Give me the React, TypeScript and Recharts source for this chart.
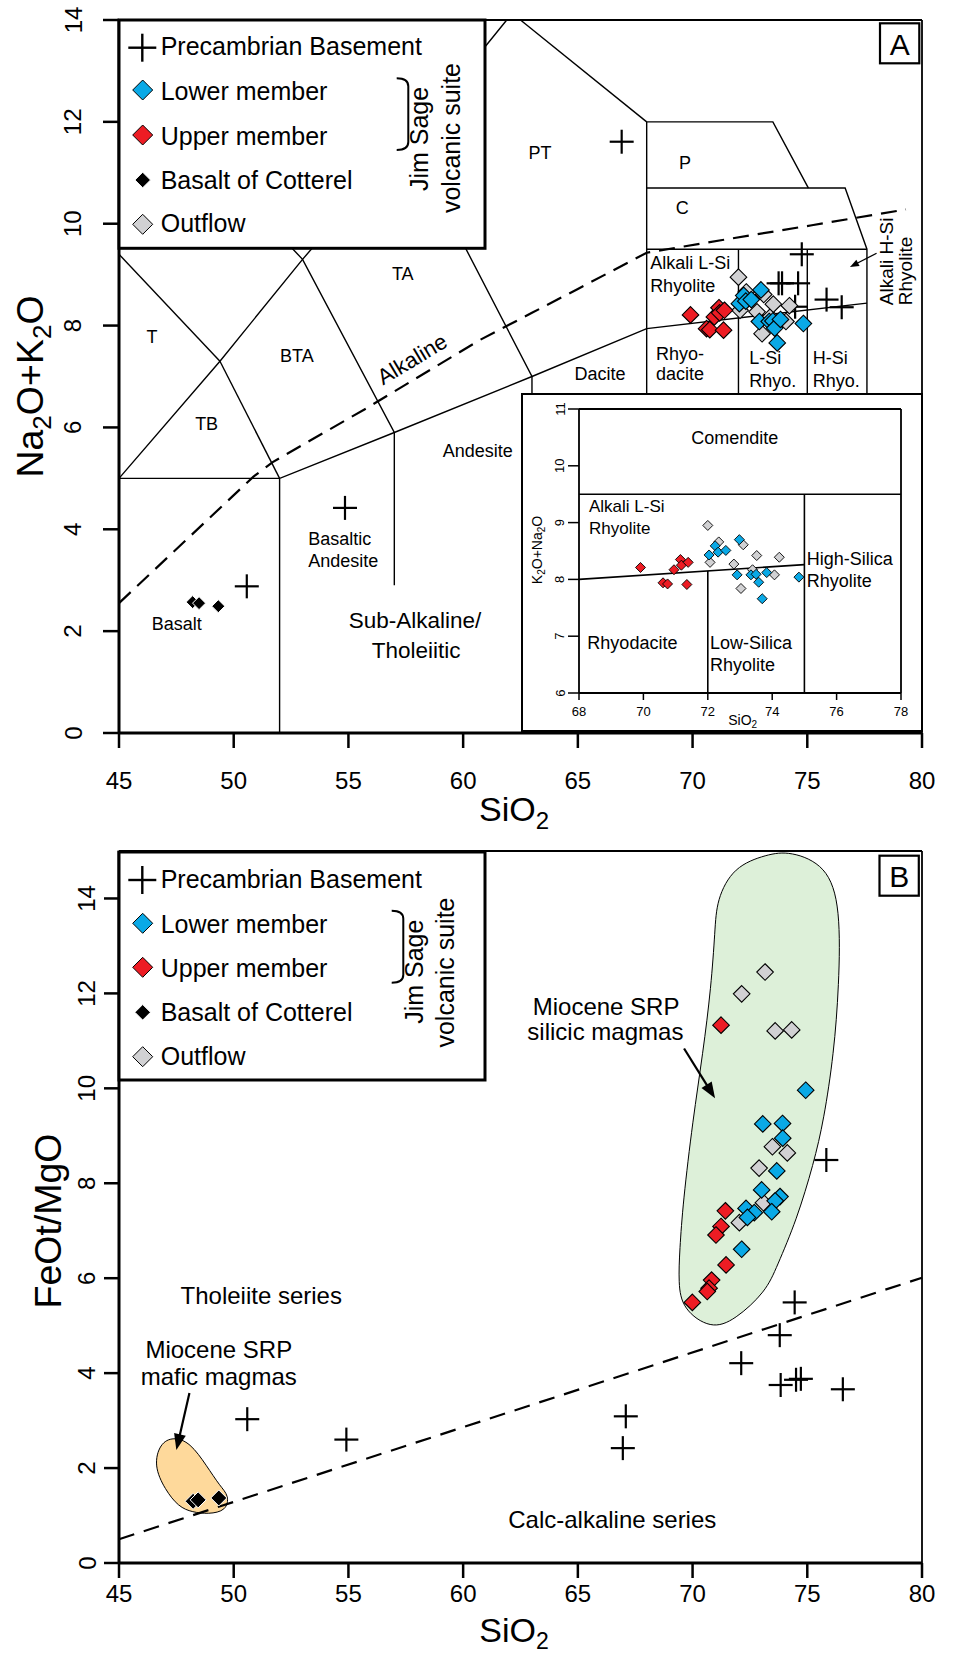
import React from 'react';
import { ScatterChart, Scatter, XAxis, YAxis, ReferenceLine, Curve } from 'recharts';

type Pt = { x: number; y: number };
type Lbl = { x: number; y: number; text: string };

const FONT = '"Liberation Sans", Arial, Helvetica, sans-serif';
const BLUE = '#0aa9e6';
const RED = '#ed1c24';
const GRAY = '#d1d1d3';
const GREEN = '#ddf0d9';
const ORANGE = '#fed99b';

const toPts = (a: number[][]): Pt[] => a.map(([x, y]) => ({ x, y }));

// ---------------- Panel A : TAS ----------------
const tasXTicks = [45, 50, 55, 60, 65, 70, 75, 80];
const tasYTicks = [0, 2, 4, 6, 8, 10, 12, 14];

const precambrianA = [[50.57, 2.88], [54.85, 4.42], [66.91, 11.61], [74.76, 9.4], [73.75, 8.83], [73.9, 8.83], [74.6, 8.83], [75.84, 8.51], [76.5, 8.36], [74.47, 8.37]];
const lowerA = [[72.04, 8.43], [72.23, 8.59], [72.32, 8.48], [72.56, 8.51], [72.98, 8.7], [72.91, 8.08], [73.34, 8.08], [73.5, 8.09], [73.58, 7.95], [73.69, 7.66], [73.83, 8.12], [74.83, 8.04]];
const upperA = [[69.91, 8.21], [70.61, 7.94], [70.75, 7.92], [70.95, 8.17], [71.15, 8.35], [71.18, 8.25], [71.39, 8.3], [71.35, 7.91]];
const outflowA = [[72.0, 8.95], [72.07, 8.3], [72.34, 8.66], [72.81, 8.27], [73.1, 8.61], [73.03, 7.84], [73.39, 8.17], [73.52, 8.42], [74.07, 8.08], [74.22, 8.39]];
const basaltA = [[48.21, 2.57], [48.49, 2.55], [49.33, 2.49]];

const tasFieldLines: number[][][] = [
  [[45, 9.4], [49.4, 7.3]],
  [[45, 5], [49.4, 7.3], [53, 9.3], [57.6, 11.7], [61, 13.5], [61.9, 14]],
  [[49.4, 7.3], [52, 5]],
  [[45, 5], [52, 5]],
  [[52, 0], [52, 5], [57, 5.9], [63, 7], [68, 7.94], [77.6, 8.44]],
  [[48.4, 11.5], [53, 9.3], [57, 5.9], [57, 2.9]],
  [[57.6, 11.7], [63, 7], [63, 0]],
  [[62.5, 14], [68, 12]],
  [[68, 6], [68, 12], [73.5, 12], [75.05, 10.7]],
  [[68, 10.7], [76.65, 10.7], [77.6, 9.5], [77.6, 6]],
  [[68, 9.5], [77.6, 9.5]],
  [[72, 9.5], [72, 6]],
  [[75, 9.5], [75, 6]],
];
const alkalineDivideA = [[45, 2.55], [50.85, 5.03], [51.7, 5.32], [55.8, 6.38], [60.7, 7.71], [63, 8.25], [65, 8.72], [68, 9.43], [71.3, 9.68], [75.2, 9.97], [79.3, 10.28]];
const hsiArrow = [[78.02, 9.42], [76.86, 9.15]];

const tasNamesCentered: Lbl[] = [
  { x: 46.44, y: 7.66, text: 'T' },
  { x: 48.82, y: 5.95, text: 'TB' },
  { x: 52.75, y: 7.29, text: 'BTA' },
  { x: 57.37, y: 8.89, text: 'TA' },
  { x: 63.35, y: 11.28, text: 'PT' },
  { x: 69.67, y: 11.07, text: 'P' },
  { x: 69.55, y: 10.19, text: 'C' },
  { x: 65.97, y: 6.93, text: 'Dacite' },
];
const tasNamesLeft: Lbl[] = [
  { x: 68.15, y: 9.12, text: 'Alkali L-Si' },
  { x: 68.15, y: 8.66, text: 'Rhyolite' },
  { x: 68.41, y: 7.33, text: 'Rhyo-' },
  { x: 68.41, y: 6.93, text: 'dacite' },
  { x: 72.47, y: 7.24, text: 'L-Si' },
  { x: 72.47, y: 6.8, text: 'Rhyo.' },
  { x: 75.24, y: 7.24, text: 'H-Si' },
  { x: 75.24, y: 6.8, text: 'Rhyo.' },
  { x: 59.11, y: 5.42, text: 'Andesite' },
  { x: 53.25, y: 3.7, text: 'Basaltic' },
  { x: 53.25, y: 3.26, text: 'Andesite' },
  { x: 46.43, y: 2.02, text: 'Basalt' },
];
const tasSeriesNames: Lbl[] = [
  { x: 57.9, y: 2.06, text: 'Sub-Alkaline/' },
  { x: 57.95, y: 1.47, text: 'Tholeiitic' },
];
const tasAlkalineTag: Lbl[] = [{ x: 57.78, y: 7.34, text: 'Alkaline' }];
const tasAlkaliHSi: Lbl[] = [
  { x: 78.74, y: 8.4, text: 'Alkali H-Si' },
  { x: 79.56, y: 8.4, text: 'Rhyolite' },
];

// ---------------- Inset ----------------
const insetXTicks = [68, 70, 72, 74, 76, 78];
const insetYTicks = [6, 7, 8, 9, 10, 11];
const insetFieldLines: number[][][] = [
  [[68, 9.5], [78, 9.5]],
  [[75, 9.5], [75, 6]],
  [[68, 8.0], [75, 8.26]],
  [[72, 8.15], [72, 6]],
];
const insetNamesCentered: Lbl[] = [{ x: 72.84, y: 10.39, text: 'Comendite' }];
const insetNamesLeft: Lbl[] = [
  { x: 75.07, y: 8.26, text: 'High-Silica' },
  { x: 75.07, y: 7.87, text: 'Rhyolite' },
  { x: 68.26, y: 6.77, text: 'Rhyodacite' },
  { x: 72.07, y: 6.77, text: 'Low-Silica' },
  { x: 72.07, y: 6.39, text: 'Rhyolite' },
];
const insetNamesSmall: Lbl[] = [
  { x: 68.31, y: 9.18, text: 'Alkali L-Si' },
  { x: 68.31, y: 8.8, text: 'Rhyolite' },
];

// ---------------- Panel B : FeOt/MgO ----------------
const feoXTicks = [45, 50, 55, 60, 65, 70, 75, 80];
const feoYTicks = [0, 2, 4, 6, 8, 10, 12, 14];

const precambrianB = [[50.59, 3.03], [54.91, 2.6], [67.09, 3.09], [66.96, 2.42], [72.12, 4.21], [73.8, 4.8], [73.84, 3.75], [74.45, 5.49], [74.51, 3.86], [74.72, 3.88], [75.83, 8.49], [76.55, 3.66]];
const lowerB = [[74.93, 9.96], [73.06, 9.25], [73.92, 9.26], [73.93, 8.95], [73.67, 8.26], [73.01, 7.86], [73.81, 7.72], [73.6, 7.63], [73.45, 7.4], [72.33, 7.47], [72.69, 7.38], [72.39, 7.28], [72.14, 6.61]];
const upperB = [[71.24, 11.33], [71.43, 7.42], [71.24, 7.09], [71.02, 6.91], [71.46, 6.28], [70.83, 5.96], [70.72, 5.79], [70.64, 5.72], [69.99, 5.49]];
const outflowB = [[73.16, 12.45], [72.14, 11.99], [73.6, 11.21], [74.32, 11.23], [73.48, 8.77], [74.13, 8.64], [72.9, 8.32], [73.09, 7.59], [72.04, 7.17]];
const basaltB = [[48.23, 1.3], [48.45, 1.33], [49.35, 1.37]];

const miyashiroLine = [[45, 0.5], [80, 6.01]];
const silicicField = [[71.05, 13.97], [71.78, 14.67], [73.24, 14.93], [74.25, 15.0], [75.85, 14.7], [76.45, 13.82], [76.38, 12.14], [76.16, 10.74], [75.72, 9.33], [75.28, 8.42], [74.54, 7.23], [73.67, 6.24], [73.2, 5.72], [71.85, 5.12], [70.8, 4.92], [69.55, 5.35], [69.38, 5.9], [69.44, 6.6], [69.58, 7.58], [70.01, 9.33], [70.45, 10.74], [70.81, 12.14], [70.98, 13.34]];
const maficField = [[47.37, 2.66], [48.1, 2.54], [48.82, 2.05], [49.4, 1.62], [49.8, 1.42], [49.68, 1.1], [48.9, 1.03], [48.2, 1.07], [47.6, 1.18], [47.0, 1.55], [46.52, 2.05], [46.78, 2.52]];
const silicicArrow = [[69.63, 10.84], [70.98, 9.79]];
const maficArrow = [[48.07, 3.58], [47.5, 2.38]];

const feoNames: Lbl[] = [
  { x: 51.2, y: 5.46, text: 'Tholeiite series' },
  { x: 66.5, y: 0.74, text: 'Calc-alkaline series' },
  { x: 66.23, y: 11.54, text: 'Miocene SRP' },
  { x: 66.2, y: 11.02, text: 'silicic magmas' },
  { x: 49.35, y: 4.32, text: 'Miocene SRP' },
  { x: 49.35, y: 3.75, text: 'mafic magmas' },
];

const legendNames = ['Precambrian Basement', 'Lower member', 'Upper member', 'Basalt of Cotterel', 'Outflow'];

// ---------------- shapes ----------------
const Nothing = () => <g />;

function diamondShape(r: number, fill: string, stroke = '#000', sw = 1) {
  return (p: any) => {
    const { cx, cy } = p;
    if (cx == null || cy == null || Number.isNaN(cx)) return <g />;
    return <polygon points={`${cx},${cy - r} ${cx + r},${cy} ${cx},${cy + r} ${cx - r},${cy}`} fill={fill} stroke={stroke} strokeWidth={sw} />;
  };
}
function crossShape(h: number, sw: number) {
  return (p: any) => {
    const { cx, cy } = p;
    if (cx == null || cy == null || Number.isNaN(cx)) return <g />;
    return (
      <g stroke="#000" strokeWidth={sw}>
        <line x1={cx - h} y1={cy} x2={cx + h} y2={cy} />
        <line x1={cx} y1={cy - h} x2={cx} y2={cy + h} />
      </g>
    );
  };
}
function textShape(size: number, anchor: string, rotate = 0, central = false) {
  return (p: any) => {
    const d = p.payload ?? p;
    const { cx, cy } = p;
    if (cx == null || cy == null || Number.isNaN(cx)) return <g />;
    return (
      <text x={cx} y={cy} fontSize={size} fontFamily={FONT} fill="#000" textAnchor={anchor as any}
        dominantBaseline={central ? 'central' : undefined}
        transform={rotate ? `rotate(${rotate} ${cx} ${cy})` : undefined}>{d.text}</text>
    );
  };
}
function ArrowLine(props: any) {
  const { points, head = 14, half = 5, sw = 2 } = props;
  if (!points || points.length < 2) return null;
  const a = points[0];
  const b = points[points.length - 1];
  const dx = b.x - a.x, dy = b.y - a.y;
  const L = Math.hypot(dx, dy) || 1;
  const ux = dx / L, uy = dy / L;
  const bx = b.x - ux * head, by = b.y - uy * head;
  const nx = -uy * half, ny = ux * half;
  return (
    <g>
      <line x1={a.x} y1={a.y} x2={bx + ux * 2} y2={by + uy * 2} stroke="#000" strokeWidth={sw} />
      <polygon points={`${b.x},${b.y} ${bx + nx},${by + ny} ${bx - nx},${by - ny}`} fill="#000" />
    </g>
  );
}
function BlobPath(props: any) {
  const { points, areaFill } = props;
  if (!points || !points.length) return null;
  return <Curve type="basisClosed" points={points} fill={areaFill} stroke="#000" strokeWidth={1} />;
}

function xTick(size: number) {
  return (p: any) => (
    <text x={p.x} y={p.y} textAnchor="middle" dominantBaseline="central" fontSize={size} fontFamily={FONT} fill="#000">{p.payload.value}</text>
  );
}
function yTick(size: number) {
  return (p: any) => (
    <text x={p.x} y={p.y} textAnchor="middle" dominantBaseline="central" fontSize={size} fontFamily={FONT} fill="#000"
      transform={`rotate(-90 ${p.x} ${p.y})`}>{p.payload.value}</text>
  );
}

const AXIS = { stroke: '#000', strokeWidth: 3 };
const TICK = { stroke: '#000', strokeWidth: 2.5 };
const FIELD_LINE = { stroke: '#000', strokeWidth: 1.4 };

// ---------------- legend box (overlay) ----------------
function KeyBox({ c }: any) {
  const L = 119;
  const t = c.top;
  const colors = [BLUE, RED, '#000', GRAY];
  const radii = [10, 10, 7.8, 10];
  const dx = L + 23.7;
  return (
    <g fontFamily={FONT}>
      <rect x={L} y={t} width={366} height={c.h} fill="#fff" stroke="#000" strokeWidth={3} />
      <g stroke="#000" strokeWidth={2.4}>
        <line x1={L + 23.3 - 14} y1={t + c.crossY} x2={L + 23.3 + 14} y2={t + c.crossY} />
        <line x1={L + 23.3} y1={t + c.crossY - 14} x2={L + 23.3} y2={t + c.crossY + 14} />
      </g>
      {c.diaY.map((dy: number, i: number) => {
        const cy = t + dy, r = radii[i];
        return <polygon key={i} points={`${dx},${cy - r} ${dx + r},${cy} ${dx},${cy + r} ${dx - r},${cy}`} fill={colors[i]} stroke={i === 2 ? '#fff' : '#000'} strokeWidth={1} />;
      })}
      {legendNames.map((n, i) => (
        <text key={n} x={L + 41.7} y={t + c.textY[i]} fontSize={25} fill="#000">{n}</text>
      ))}
      <path d={`M${L + c.br.x0} ${t + c.br.y0} Q${L + c.br.x1} ${t + c.br.y0} ${L + c.br.x1} ${t + c.br.y0 + 8} L${L + c.br.x1} ${t + c.br.y1 - 8} Q${L + c.br.x1} ${t + c.br.y1} ${L + c.br.x0} ${t + c.br.y1}`} fill="none" stroke="#000" strokeWidth={2} />
      <text x={L + c.jim.x} y={t + c.jim.y} fontSize={25} textAnchor="middle" transform={`rotate(-90 ${L + c.jim.x} ${t + c.jim.y})`}>Jim Sage</text>
      <text x={L + c.vol.x} y={t + c.vol.y} fontSize={25} textAnchor="middle" transform={`rotate(-90 ${L + c.vol.x} ${t + c.vol.y})`}>volcanic suite</text>
    </g>
  );
}

const keyA = { top: 20, h: 228.3, crossY: 27.7, textY: [35, 80, 125, 169, 212.3], diaY: [70, 115, 160, 204.3], br: { x0: 277.7, x1: 289.3, y0: 58.3, y1: 130 }, jim: { x: 309.3, y: 119 }, vol: { x: 341, y: 118 } };
const keyB = { top: 852, h: 228, crossY: 28, textY: [36.3, 80.7, 124.7, 169, 213], diaY: [71.3, 115.3, 160.3, 204.7], br: { x0: 272.7, x1: 284.3, y0: 58.7, y1: 130.7 }, jim: { x: 304.3, y: 119.7 }, vol: { x: 335, y: 120.5 } };

function PanelTag({ x, y, letter, base }: any) {
  return (
    <g>
      <rect x={x} y={y} width={39.3} height={40} fill="#fff" stroke="#000" strokeWidth={2.2} />
      <text x={x + 19.7} y={base} fontSize={30} textAnchor="middle" fontFamily={FONT}>{letter}</text>
    </g>
  );
}

export default function App() {
  const noAnim = false;
  return (
    <div style={{ position: 'absolute', left: 0, top: 0, width: 953, height: 1657, background: '#fff', overflow: 'hidden' }}>
      {/* Panel A */}
      <div style={{ position: 'absolute', left: 0, top: 0 }}>
        <ScatterChart width={953} height={820} margin={{ top: 20, right: 31, bottom: 40, left: 59 }}>
          <XAxis type="number" dataKey="x" domain={[45, 80]} ticks={tasXTicks} interval={0} height={47} tickSize={15} tickMargin={32} tick={xTick(24)} axisLine={AXIS} tickLine={TICK} />
          <YAxis type="number" dataKey="y" domain={[0, 14]} ticks={tasYTicks} interval={0} width={60} tickSize={16} tickMargin={30} tick={yTick(24)} axisLine={AXIS} tickLine={TICK} />
          <ReferenceLine y={14} stroke="#000" strokeWidth={1.8} />
          <ReferenceLine x={80} stroke="#000" strokeWidth={1.8} />
          {tasFieldLines.map((s, i) => (
            <Scatter key={`tf${i}`} data={toPts(s)} line={FIELD_LINE} shape={Nothing} isAnimationActive={noAnim} />
          ))}
          <Scatter data={toPts(alkalineDivideA)} line={{ stroke: '#000', strokeWidth: 2.2, strokeDasharray: '16 9' }} shape={Nothing} isAnimationActive={noAnim} />
          <Scatter data={tasNamesCentered} shape={textShape(18, 'middle')} isAnimationActive={noAnim} />
          <Scatter data={tasNamesLeft} shape={textShape(18, 'start')} isAnimationActive={noAnim} />
          <Scatter data={tasSeriesNames} shape={textShape(22.5, 'middle')} isAnimationActive={noAnim} />
          <Scatter data={tasAlkalineTag} shape={textShape(22, 'middle', -31, true)} isAnimationActive={noAnim} />
          <Scatter data={tasAlkaliHSi} shape={textShape(19, 'start', -90)} isAnimationActive={noAnim} />
          <Scatter data={toPts(hsiArrow)} line={<ArrowLine head={9} half={3.5} sw={1.3} />} shape={Nothing} isAnimationActive={noAnim} />
          <Scatter data={toPts(precambrianA)} shape={crossShape(12, 2.2)} isAnimationActive={noAnim} />
          <Scatter data={toPts(basaltA)} shape={diamondShape(6.5, '#000', '#fff', 1)} isAnimationActive={noAnim} />
          <Scatter data={toPts(outflowA)} shape={diamondShape(8.3, GRAY, '#000', 1.1)} isAnimationActive={noAnim} />
          <Scatter data={toPts(lowerA)} shape={diamondShape(8.3, BLUE, '#000', 1.1)} isAnimationActive={noAnim} />
          <Scatter data={toPts(upperA)} shape={diamondShape(8.3, RED, '#000', 1.1)} isAnimationActive={noAnim} />
        </ScatterChart>
      </div>

      {/* Panel B */}
      <div style={{ position: 'absolute', left: 0, top: 820 }}>
        <ScatterChart width={953} height={837} margin={{ top: 31, right: 31, bottom: 47, left: 59 }}>
          <XAxis type="number" dataKey="x" domain={[45, 80]} ticks={feoXTicks} interval={0} height={47} tickSize={15} tickMargin={15} tick={xTick(24)} axisLine={AXIS} tickLine={TICK} />
          <YAxis type="number" dataKey="y" domain={[0, 15]} ticks={feoYTicks} interval={0} width={60} tickSize={15} tickMargin={17} tick={yTick(24)} axisLine={AXIS} tickLine={TICK} />
          <ReferenceLine y={15} stroke="#000" strokeWidth={1.8} />
          <ReferenceLine x={80} stroke="#000" strokeWidth={1.8} />
          <Scatter data={toPts(silicicField)} line={<BlobPath areaFill={GREEN} />} shape={Nothing} isAnimationActive={noAnim} />
          <Scatter data={toPts(maficField)} line={<BlobPath areaFill={ORANGE} />} shape={Nothing} isAnimationActive={noAnim} />
          <Scatter data={toPts(miyashiroLine)} line={{ stroke: '#000', strokeWidth: 2.2, strokeDasharray: '16 10' }} shape={Nothing} isAnimationActive={noAnim} />
          <Scatter data={feoNames} shape={textShape(24, 'middle')} isAnimationActive={noAnim} />
          <Scatter data={toPts(silicicArrow)} line={<ArrowLine head={16} half={6} sw={2.2} />} shape={Nothing} isAnimationActive={noAnim} />
          <Scatter data={toPts(maficArrow)} line={<ArrowLine head={16} half={6} sw={2.2} />} shape={Nothing} isAnimationActive={noAnim} />
          <Scatter data={toPts(precambrianB)} shape={crossShape(12, 2.2)} isAnimationActive={noAnim} />
          <Scatter data={toPts(basaltB)} shape={diamondShape(8, '#000', '#fff', 1)} isAnimationActive={noAnim} />
          <Scatter data={toPts(outflowB)} shape={diamondShape(8.3, GRAY, '#000', 1.1)} isAnimationActive={noAnim} />
          <Scatter data={toPts(lowerB)} shape={diamondShape(8.3, BLUE, '#000', 1.1)} isAnimationActive={noAnim} />
          <Scatter data={toPts(upperB)} shape={diamondShape(8.3, RED, '#000', 1.1)} isAnimationActive={noAnim} />
        </ScatterChart>
      </div>

      {/* Inset of panel A */}
      <div style={{ position: 'absolute', left: 520.5, top: 393, width: 402, height: 339, boxSizing: 'border-box', border: '2.5px solid #000', background: '#fff' }}>
        <ScatterChart width={397} height={334} margin={{ top: 14, right: 19, bottom: 0, left: 0 }}>
          <XAxis type="number" dataKey="x" domain={[68, 78]} ticks={insetXTicks} interval={0} height={36} tickSize={7} tickMargin={11} tick={xTick(13)} axisLine={{ stroke: '#000', strokeWidth: 1.8 }} tickLine={{ stroke: '#000', strokeWidth: 1.5 }} />
          <YAxis type="number" dataKey="y" domain={[6, 11]} ticks={insetYTicks} interval={0} width={56} tickSize={11} tickMargin={8} tick={yTick(13)} axisLine={{ stroke: '#000', strokeWidth: 1.8 }} tickLine={{ stroke: '#000', strokeWidth: 1.5 }} />
          <ReferenceLine y={11} stroke="#000" strokeWidth={1.8} />
          <ReferenceLine x={78} stroke="#000" strokeWidth={1.8} />
          {insetFieldLines.map((s, i) => (
            <Scatter key={`if${i}`} data={toPts(s)} line={{ stroke: '#000', strokeWidth: 1.6 }} shape={Nothing} isAnimationActive={noAnim} />
          ))}
          <Scatter data={insetNamesCentered} shape={textShape(18, 'middle')} isAnimationActive={noAnim} />
          <Scatter data={insetNamesLeft} shape={textShape(18, 'start')} isAnimationActive={noAnim} />
          <Scatter data={insetNamesSmall} shape={textShape(17, 'start')} isAnimationActive={noAnim} />
          <Scatter data={toPts(outflowA)} shape={diamondShape(5, GRAY, '#000', 0.9)} isAnimationActive={noAnim} />
          <Scatter data={toPts(lowerA)} shape={diamondShape(5, BLUE, '#000', 0.9)} isAnimationActive={noAnim} />
          <Scatter data={toPts(upperA)} shape={diamondShape(5, RED, '#000', 0.9)} isAnimationActive={noAnim} />
        </ScatterChart>
      </div>

      {/* Overlay: legends, panel tags, axis titles */}
      <svg width={953} height={1657} style={{ position: 'absolute', left: 0, top: 0, pointerEvents: 'none' }} fontFamily={FONT}>
        <KeyBox c={keyA} />
        <KeyBox c={keyB} />
        <PanelTag x={880} y={23.3} letter="A" base={55} />
        <PanelTag x={879.5} y={855.7} letter="B" base={886.5} />

        <text x={43.3} y={386.5} fontSize={37.5} textAnchor="middle" transform="rotate(-90 43.3 386.5)">
          Na<tspan fontSize={26} dy={8}>2</tspan><tspan dy={-8}>O+K</tspan><tspan fontSize={26} dy={8}>2</tspan><tspan dy={-8}>O</tspan>
        </text>
        <text x={514} y={821} fontSize={34} textAnchor="middle">
          SiO<tspan fontSize={24} dy={8}>2</tspan>
        </text>
        <text x={60.8} y={1221} fontSize={37.5} textAnchor="middle" transform="rotate(-90 60.8 1221)">FeOt/MgO</text>
        <text x={514} y={1642} fontSize={34} textAnchor="middle">
          SiO<tspan fontSize={23} dy={7}>2</tspan>
        </text>

        <text x={541.7} y={550} fontSize={14} textAnchor="middle" transform="rotate(-90 541.7 550)">
          K<tspan fontSize={10} dy={3}>2</tspan><tspan dy={-3}>O+Na</tspan><tspan fontSize={10} dy={3}>2</tspan><tspan dy={-3}>O</tspan>
        </text>
        <text x={742.7} y={725} fontSize={14} textAnchor="middle">
          SiO<tspan fontSize={10} dy={3}>2</tspan>
        </text>
      </svg>
    </div>
  );
}
